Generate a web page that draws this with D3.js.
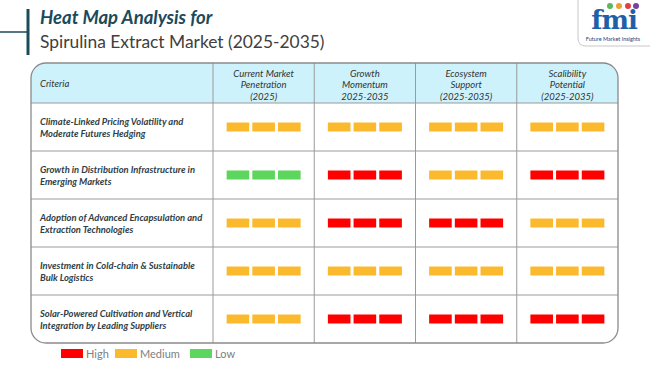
<!DOCTYPE html>
<html>
<head>
<meta charset="utf-8">
<script src="https://cdn.jsdelivr.net/npm/d3@7"></script>
<style>
  body { margin: 0; background: #fff; }
  svg { display: block; font-family: Lato, "Open Sans", sans-serif; }
</style>
</head>
<body>
<svg id="chart" width="650" height="365"></svg>
<script>
// data
const criteria = [
  ["Climate-Linked Pricing Volatility and", "Moderate Futures Hedging"],
  ["Growth in Distribution Infrastructure in", "Emerging Markets"],
  ["Adoption of Advanced Encapsulation and", "Extraction Technologies"],
  ["Investment in Cold-chain & Sustainable", "Bulk Logistics"],
  ["Solar-Powered Cultivation and Vertical", "Integration by Leading Suppliers"]
];
const metrics = [
  ["Current Market", "Penetration", "(2025)"],
  ["Growth", "Momentum", "2025-2035"],
  ["Ecosystem", "Support", "(2025-2035)"],
  ["Scalibility", "Potential", "(2025-2035)"]
];
// one row per criterion, one level per metric
const levels = [
  ["Medium", "Medium", "Medium", "Medium"],
  ["Low", "High", "Medium", "High"],
  ["Medium", "High", "High", "Medium"],
  ["Medium", "Medium", "Medium", "Medium"],
  ["Medium", "High", "High", "High"]
];
const legendItems = ["High", "Medium", "Low"];
const levelColor = { High: "#ff0000", Medium: "#fbb92d", Low: "#5cd65c" };

const svg = d3.select("#chart");

// title block
svg.append("line").attr("x1", 0).attr("x2", 28).attr("y1", 32).attr("y2", 32)
  .attr("stroke", "#1b4a5a").attr("stroke-width", 1.5);
svg.append("line").attr("x1", 28).attr("x2", 28).attr("y1", 9).attr("y2", 55)
  .attr("stroke", "#1b4a5a").attr("stroke-width", 3);
svg.append("text").attr("x", 40).attr("y", 24)
  .attr("fill", "#1b4a5a").attr("font-weight", "bold").attr("font-style", "italic")
  .attr("font-size", 18.5).text("Heat Map Analysis for");
svg.append("text").attr("x", 40).attr("y", 48)
  .attr("fill", "#404040").attr("font-size", 17.4)
  .text("Spirulina Extract Market (2025-2035)");

// logo
const logo = svg.append("g");
logo.append("path").attr("d", "M578,0 V38 Q578,46 586,46 H650")
  .attr("fill", "none").attr("stroke", "#c8c8c8").attr("stroke-width", 1);
logo.append("text").attr("x", 614).attr("y", 29).attr("text-anchor", "middle")
  .attr("font-family", "DejaVu Serif, serif").attr("font-weight", "bold")
  .attr("font-size", 26).attr("fill", "#1f5fa8").attr("letter-spacing", -1).text("fmi");
[["#5cb85c", 610], ["#f0a030", 619], ["#e04040", 628], ["#7a3fa0", 636]].forEach(([c, cx]) => {
  logo.append("circle").attr("cx", cx).attr("cy", 6).attr("r", 3).attr("fill", c);
});
logo.append("text").attr("x", 613).attr("y", 41).attr("text-anchor", "middle")
  .attr("font-size", 5.5).attr("fill", "#1f3f7a").text("Future Market Insights");

// table geometry
const tLeft = 31, tRight = 618, tTop = 63, headH = 40, tBottom = 343, firstColW = 182;

const x = d3.scaleBand().domain(d3.range(metrics.length)).range([tLeft + firstColW, tRight]);
const y = d3.scaleBand().domain(d3.range(criteria.length)).range([tTop + headH, tBottom]);

svg.append("defs").append("clipPath").attr("id", "tableClip")
  .append("rect").attr("x", tLeft).attr("y", tTop)
  .attr("width", tRight - tLeft).attr("height", tBottom - tTop).attr("rx", 15);

const table = svg.append("g");
table.append("rect").attr("x", tLeft).attr("y", tTop)
  .attr("width", tRight - tLeft).attr("height", headH)
  .attr("fill", "#cdf2fb").attr("clip-path", "url(#tableClip)");

// grid lines
const gridColor = "#9a9a9a";
table.selectAll("line.h").data(d3.range(criteria.length)).join("line")
  .attr("class", "h")
  .attr("x1", tLeft).attr("x2", tRight)
  .attr("y1", d => y(d)).attr("y2", d => y(d))
  .attr("stroke", gridColor).attr("stroke-width", 1);
table.selectAll("line.v").data(d3.range(metrics.length)).join("line")
  .attr("class", "v")
  .attr("y1", tTop).attr("y2", tBottom)
  .attr("x1", d => x(d)).attr("x2", d => x(d))
  .attr("stroke", gridColor).attr("stroke-width", 1);
table.append("rect").attr("x", tLeft).attr("y", tTop)
  .attr("width", tRight - tLeft).attr("height", tBottom - tTop).attr("rx", 15)
  .attr("fill", "none").attr("stroke", "#8a8a8a").attr("stroke-width", 1.3);

// header text
table.append("text").attr("x", 40).attr("y", tTop + headH / 2 + 3.5)
  .attr("font-size", 9.5).attr("font-style", "italic").attr("fill", "#333")
  .text("Criteria");
metrics.forEach((lines, j) => {
  const t = table.append("text").attr("text-anchor", "middle")
    .attr("font-size", 9.5).attr("font-style", "italic").attr("fill", "#333");
  lines.forEach((s, k) => {
    t.append("tspan").attr("x", x(j) + x.bandwidth() / 2)
      .attr("y", tTop + 14 + k * 11.3).text(s);
  });
});

// criteria labels
criteria.forEach((lines, i) => {
  const cy = y(i) + y.bandwidth() / 2;
  const t = table.append("text").attr("font-size", 9.4).attr("font-weight", "bold")
    .attr("font-style", "italic").attr("fill", "#2f3e48");
  lines.forEach((s, k) => {
    t.append("tspan").attr("x", 40).attr("y", cy - 2 + k * 11.5).text(s);
  });
});

// heat bars
const barW = 74, barH = 9;
levels.forEach((row, i) => {
  row.forEach((lvl, j) => {
    const cx = x(j) + x.bandwidth() / 2;
    const cy = y(i) + y.bandwidth() / 2;
    const b = d3.scaleBand().domain([0, 1, 2]).range([cx - barW / 2, cx + barW / 2]).paddingInner(0.12);
    table.selectAll(null).data(b.domain()).enter().append("rect")
      .attr("x", d => b(d)).attr("y", cy - barH / 2)
      .attr("width", b.bandwidth()).attr("height", barH)
      .attr("fill", levelColor[lvl]);
  });
});

// legend
const legendX = { High: 61, Medium: 115, Low: 190 };
const legend = svg.append("g");
legendItems.forEach(k => {
  legend.append("rect").attr("x", legendX[k]).attr("y", 349)
    .attr("width", 22).attr("height", 9).attr("fill", levelColor[k]);
  legend.append("text").attr("x", legendX[k] + 25).attr("y", 357.5)
    .attr("font-size", 11).attr("fill", "#808080").text(k);
});
</script>
</body>
</html>
